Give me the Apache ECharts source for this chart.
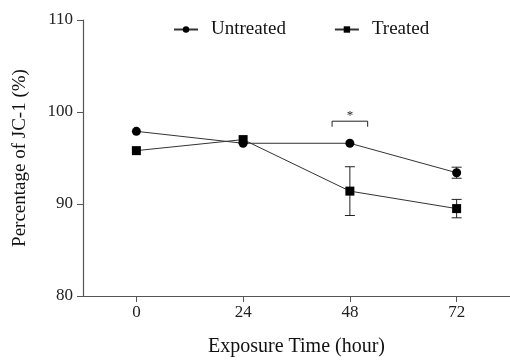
<!DOCTYPE html>
<html>
<head>
<meta charset="utf-8">
<script src="https://cdn.jsdelivr.net/npm/echarts@6/dist/echarts.min.js"></script>
<style>html,body{margin:0;padding:0;background:#fff}#c{width:510px;height:362px}</style>
</head>
<body>
<div id="c"></div>
<script>
var hours = [0, 24, 48, 72];
var xTicks = [0, 24, 48, 72];
var yTicks = [80, 90, 100, 110];
var untreated = [97.9, 96.6, 96.6, 93.4];
var untreatedErr = [0, 0, 0, 0.6];
var treated = [95.8, 97.0, 91.4, 89.5];
var treatedErr = [0, 0, 2.65, 1.0];
var sigBracket = [44, 52, 99.0, 98.4];
var sigStar = [48, 99.6, '*'];

var font = '"Liberation Serif", "Times New Roman", serif';

function errData(vals, errs) {
  var out = [];
  for (var i = 0; i < hours.length; i++) {
    if (errs[i] > 0) out.push([hours[i], vals[i] - errs[i], vals[i] + errs[i]]);
  }
  return out;
}

function errRender(params, api) {
  var x = api.value(0);
  var lo = api.coord([x, api.value(1)]);
  var hi = api.coord([x, api.value(2)]);
  var hw = 5;
  var st = { stroke: '#222', lineWidth: 1 };
  return {
    type: 'group',
    children: [
      { type: 'line', shape: { x1: lo[0], y1: lo[1], x2: hi[0], y2: hi[1] }, style: st },
      { type: 'line', shape: { x1: lo[0] - hw, y1: lo[1], x2: lo[0] + hw, y2: lo[1] }, style: st },
      { type: 'line', shape: { x1: hi[0] - hw, y1: hi[1], x2: hi[0] + hw, y2: hi[1] }, style: st }
    ]
  };
}

var chart = echarts.init(document.getElementById('c'), null, { renderer: 'canvas' });
chart.setOption({
  animation: false,
  backgroundColor: '#fff',
  textStyle: { fontFamily: font },
  grid: { left: 83, right: -3, top: 20, bottom: 64, containLabel: false },
  legend: {
    top: 15,
    left: 168,
    itemWidth: 24,
    itemHeight: 8,
    itemGap: 48,
    data: ['Untreated', 'Treated'],
    textStyle: { fontFamily: font, fontSize: 19, color: '#111', padding: [0, 0, 0, 8] }
  },
  xAxis: {
    type: 'value',
    min: -12,
    max: 84,
    name: 'Exposure Time (hour)',
    nameLocation: 'middle',
    nameGap: 41,
    nameTextStyle: { fontFamily: font, fontSize: 20, color: '#111' },
    axisLine: { onZero: false, lineStyle: { color: '#555', width: 1.2 } },
    axisTick: { show: true, length: 6, customValues: xTicks, lineStyle: { color: '#555' } },
    axisLabel: { customValues: xTicks, fontFamily: font, fontSize: 17, color: '#222', margin: 8 },
    splitLine: { show: false }
  },
  yAxis: {
    type: 'value',
    min: 80,
    max: 110,
    interval: 10,
    name: 'Percentage of JC-1 (%)',
    nameLocation: 'middle',
    nameGap: 53,
    nameTextStyle: { fontFamily: font, fontSize: 19, color: '#111' },
    axisLine: { show: true, onZero: false, lineStyle: { color: '#555', width: 1.2 } },
    axisTick: { show: true, length: 6, lineStyle: { color: '#555' } },
    axisLabel: { fontFamily: font, fontSize: 17, color: '#222', margin: 10 },
    splitLine: { show: false }
  },
  series: [
    {
      name: 'Untreated',
      type: 'line',
      data: hours.map(function (h, i) { return [h, untreated[i]]; }),
      symbol: 'circle',
      symbolSize: 9,
      itemStyle: { color: '#000' },
      lineStyle: { color: '#333', width: 1 },
      z: 3
    },
    {
      name: 'Treated',
      type: 'line',
      data: hours.map(function (h, i) { return [h, treated[i]]; }),
      symbol: 'rect',
      symbolSize: 9,
      itemStyle: { color: '#000' },
      lineStyle: { color: '#333', width: 1 },
      z: 4
    },
    {
      type: 'custom',
      renderItem: errRender,
      data: errData(untreated, untreatedErr),
      z: 2,
      silent: true
    },
    {
      type: 'custom',
      renderItem: errRender,
      data: errData(treated, treatedErr),
      z: 2,
      silent: true
    },
    {
      type: 'custom',
      silent: true,
      data: [sigBracket],
      renderItem: function (params, api) {
        var a = api.coord([api.value(0), api.value(3)]);
        var b = api.coord([api.value(0), api.value(2)]);
        var c = api.coord([api.value(1), api.value(2)]);
        var d = api.coord([api.value(1), api.value(3)]);
        return {
          type: 'polyline',
          shape: { points: [a, b, c, d] },
          style: { stroke: '#222', lineWidth: 1, fill: null }
        };
      }
    },
    {
      type: 'custom',
      silent: true,
      data: [sigStar],
      renderItem: function (params, api) {
        var p = api.coord([api.value(0), api.value(1)]);
        return {
          type: 'text',
          x: p[0], y: p[1],
          style: { text: sigStar[2], fontFamily: font, fontSize: 13, fill: '#222', align: 'center', verticalAlign: 'middle' }
        };
      }
    }
  ]
});
</script>
</body>
</html>
